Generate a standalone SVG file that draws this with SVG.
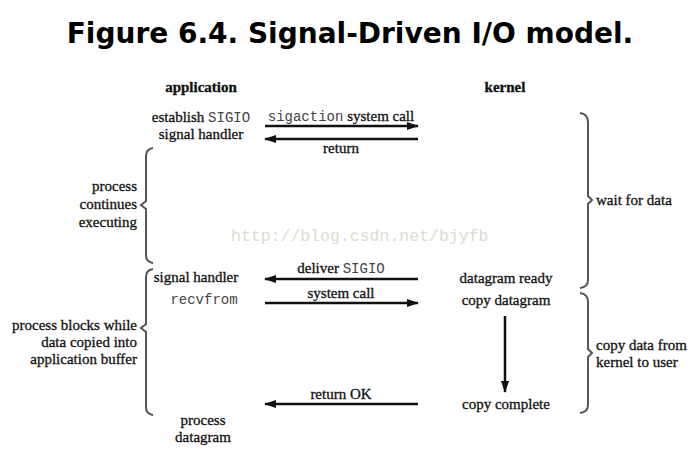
<svg xmlns="http://www.w3.org/2000/svg" width="700" height="450" viewBox="0 0 700 450">
<defs>
<marker id="ah" viewBox="0 0 12 8" refX="11" refY="4" markerWidth="12" markerHeight="8" markerUnits="userSpaceOnUse" orient="auto">
<path d="M0,0 L12,4 L0,8 Z" fill="#111"/>
</marker>
<style>
.t{font-family:'Liberation Serif','DejaVu Serif',serif;font-size:15px;fill:#111;stroke:#111;stroke-width:0.3}
.b{font-weight:bold}
.m{font-family:'Liberation Mono','DejaVu Sans Mono',monospace;font-size:14px;fill:#444;stroke:none}
.ttl{font-family:'DejaVu Sans',Verdana,sans-serif;font-weight:bold;font-size:28px;fill:#000}
.wm{font-family:'Liberation Mono','DejaVu Sans Mono',monospace;font-size:16.5px;fill:#dcdcd2}
.ar{stroke:#111;stroke-width:2.5;fill:none;marker-end:url(#ah)}
.br{stroke:#555;stroke-width:2;fill:none}
</style>
</defs>
<rect width="700" height="450" fill="#fff"/>
<text class="ttl" x="350" y="43" text-anchor="middle">Figure 6.4. Signal-Driven I/O model.</text>
<text class="wm" x="231" y="241">http://blog.csdn.net/bjyfb</text>

<g id="hdr-app"><text class="t b" x="201" y="92" text-anchor="middle">application</text></g>
<g id="hdr-kernel"><text class="t b" x="505" y="92" text-anchor="middle">kernel</text></g>

<g id="establish"><text class="t" x="201" y="122" text-anchor="middle">establish <tspan class="m">SIGIO</tspan></text>
<text class="t" x="201" y="139" text-anchor="middle">signal handler</text></g>

<g id="sig-handler"><text class="t" x="196" y="282" text-anchor="middle">signal handler</text></g>
<g id="recvfrom"><text class="m" x="204" y="304" text-anchor="middle">recvfrom</text></g>
<g id="process-datagram"><text class="t" x="203" y="425" text-anchor="middle">process</text>
<text class="t" x="203" y="442" text-anchor="middle">datagram</text></g>

<g id="datagram-ready"><text class="t" x="506" y="283" text-anchor="middle">datagram ready</text></g>
<g id="copy-datagram"><text class="t" x="506" y="305" text-anchor="middle">copy datagram</text></g>
<g id="copy-complete"><text class="t" x="506" y="409" text-anchor="middle">copy complete</text></g>

<g id="brace-continue">
<path class="br" d="M153,148 Q146,149 146,156 L146,201 L141,205 L146,209 L146,255 Q146,262 153,263"/>
<text class="t" x="137" y="191" text-anchor="end">process</text>
<text class="t" x="137" y="209" text-anchor="end">continues</text>
<text class="t" x="137" y="227" text-anchor="end">executing</text>
</g>
<g id="brace-blocks">
<path class="br" d="M153,269 Q146,270 146,277 L146,324 L141,328 L146,332 L146,407 Q146,414 153,415"/>
<text class="t" x="137" y="330" text-anchor="end">process blocks while</text>
<text class="t" x="137" y="347" text-anchor="end">data copied into</text>
<text class="t" x="137" y="364" text-anchor="end">application buffer</text>
</g>
<g id="brace-wait">
<path class="br" d="M580,113 Q588,114 588,122 L588,196 L592,200 L588,204 L588,280 Q588,287 580,288"/>
<text class="t" x="596" y="205">wait for data</text>
</g>
<g id="brace-copy">
<path class="br" d="M580,293 Q588,294 588,302 L588,349 L592,353 L588,357 L588,405 Q588,412 580,413"/>
<text class="t" x="596" y="350">copy data from</text>
<text class="t" x="596" y="367">kernel to user</text>
</g>

<g id="connectors">
<line class="ar" x1="265" y1="126" x2="418" y2="126"/>
<text class="t" x="341" y="121" text-anchor="middle"><tspan class="m">sigaction</tspan> system call</text>
<line class="ar" x1="418" y1="139" x2="265" y2="139"/>
<text class="t" x="341" y="153" text-anchor="middle">return</text>
<line class="ar" x1="418" y1="279" x2="265" y2="279"/>
<text class="t" x="341" y="273" text-anchor="middle">deliver <tspan class="m">SIGIO</tspan></text>
<line class="ar" x1="265" y1="303" x2="418" y2="303"/>
<text class="t" x="341" y="298" text-anchor="middle">system call</text>
<line class="ar" x1="505" y1="316" x2="505" y2="392"/>
<line class="ar" x1="418" y1="404" x2="265" y2="404"/>
<text class="t" x="341" y="399" text-anchor="middle">return OK</text>
</g>
</svg>
